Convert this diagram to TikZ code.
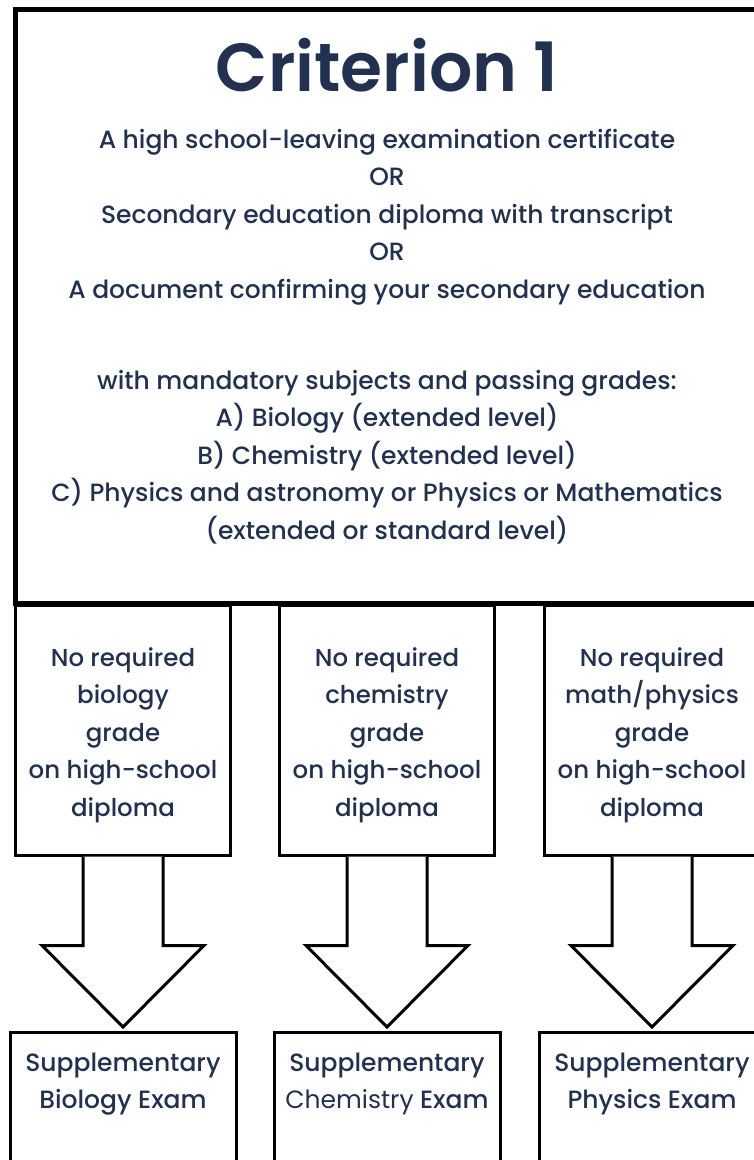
\documentclass[tikz,border=0pt]{standalone}
\usepackage{fontspec}
\setmainfont{Poppins}[UprightFont=* Medium, BoldFont=* SemiBold]
\newfontfamily\lightfont{Poppins}
\usetikzlibrary{positioning,calc}
\definecolor{navy}{HTML}{22314F}

\begin{document}
\begin{tikzpicture}[x=1pt,y=-1pt,
  mainbox/.style={draw,line width=5pt,minimum width=743pt,minimum height=594pt},
  gradebox/.style={draw,line width=3pt,minimum width=215pt,minimum height=250pt,inner sep=0pt},
  exambox/.style={draw,line width=3pt,minimum width=226pt,minimum height=200pt},
  txt/.style={text=navy,align=center,font=\fontsize{25}{37.5}\selectfont},
  bigarrow/.style={draw,fill=white,line width=3pt,line join=miter}]
  % page size
  \useasboundingbox (0,0) rectangle (754,1160);
  \clip (0,0) rectangle (754,1160);
  % draw main box
  \node[mainbox] (crit) at (387,306) {};
  \node[txt,font=\fontsize{68}{70}\selectfont\bfseries] (title) at (387,65) {Criterion 1};
  \node[txt] (docs) at (387,217) {A high school-leaving examination certificate\\OR\\Secondary education diploma with transcript\\OR\\A document confirming your secondary education};
  \node[txt] (subj) at (387,457) {with mandatory subjects and passing grades:\\A) Biology (extended level)\\B) Chemistry (extended level)\\C) Physics and astronomy or Physics or Mathematics\\(extended or standard level)};
  % draw the three columns
  \foreach \i/\x/\grade/\exam in {
      1/123/{No required\\biology\\grade\\on high-school\\diploma}/{Supplementary\\Biology Exam},
      2/387/{No required\\chemistry\\grade\\on high-school\\diploma}/{Supplementary\\{\lightfont Chemistry} Exam},
      3/652/{No required\\math/physics\\grade\\on high-school\\diploma}/{Supplementary\\Physics Exam}}
  {
    \node[gradebox] (nb\i) at (\x,730) {};
    \node[txt,font=\fontsize{24.5}{37.5}\selectfont] (gt\i) at (\x,735) {\grade};
    \node[exambox,anchor=north] (ex\i) at (\x,1031) {};
    \node[txt] (et\i) at (\x,1084) {\exam};
    % block arrow from grade box to exam box
    \draw[bigarrow] ($(nb\i.south)+(-40,0)$) -- ($(nb\i.south)+(-40,89)$)
      -- ($(nb\i.south)+(-81,89)$) -- ($(ex\i.north)+(0,-4)$)
      -- ($(nb\i.south)+(81,89)$) -- ($(nb\i.south)+(40,89)$)
      -- ($(nb\i.south)+(40,0)$);
  }
\end{tikzpicture}
\end{document}
